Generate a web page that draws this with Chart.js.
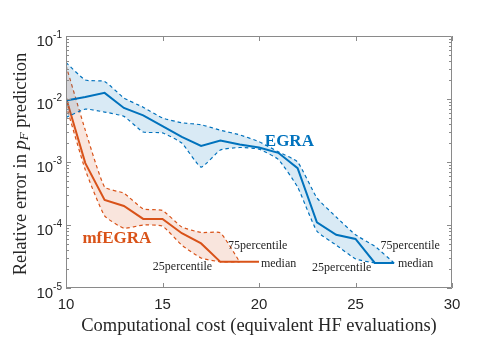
<!DOCTYPE html>
<html>
<head>
<meta charset="utf-8">
<script src="https://cdn.jsdelivr.net/npm/chart.js@4.4.1/dist/chart.umd.min.js"></script>
<style>
html, body { margin: 0; padding: 0; background: #fff; }
</style>
</head>
<body>
<canvas id="myChart" width="501" height="342"></canvas>
<script>
// EGRA: cost 10..27
var cost = [10, 11, 12, 13, 14, 15, 16, 17, 18, 19, 20, 21, 22, 23, 24, 25, 26, 27];
var egraMedian = [0.0095, 0.0108, 0.0125, 0.0072, 0.0055, 0.0037, 0.0025, 0.0018, 0.0022, 0.0019, 0.0017, 0.0014, 0.0008, 0.00011, 0.00007, 0.00006, 0.000025, 0.000025];
var egraP75 = [0.038, 0.020, 0.019, 0.0104, 0.0074, 0.005, 0.0042, 0.0039, 0.0032, 0.0027, 0.0021, 0.00145, 0.001, 0.00027, 0.000134, 0.00007, 0.000046, 0.000025];
var egraP25 = [0.0051, 0.0069, 0.0062, 0.0053, 0.0030, 0.0029, 0.0020, 0.00083, 0.00155, 0.0017, 0.0016, 0.0011, 0.0004, 0.00008, 0.000048, 0.000029, 0.000025, 0.000025];

// mfEGRA: cost 10..20 (percentiles stop at 19)
var mfCost = [10, 11, 12, 13, 14, 15, 16, 17, 18, 19, 20];
var mfMedian = [0.0105, 0.00096, 0.00025, 0.0002, 0.000125, 0.000125, 0.000074, 0.000051, 0.000026, 0.000026, 0.000026];
var mfP75 = [0.034, 0.0032, 0.0004, 0.00032, 0.00018, 0.00017, 0.000093, 0.000076, 0.000075, 0.000026];
var mfP25 = [0.008, 0.00075, 0.00014, 0.000089, 0.0001, 0.000096, 0.000048, 0.00003, 0.000026, 0.000026];

var xTicks = [10, 15, 20, 25, 30];
var yExp = [-5, -4, -3, -2, -1];

// text notes placed in data coordinates
var noteText = ['EGRA', 'mfEGRA', '75percentile', 'median', '25percentile', '75percentile', 'median', '25percentile'];
var noteX = [20.3, 10.85, 18.4, 20.1, 14.5, 26.3, 27.2, 22.75];
var noteY = [1.8e-3, 5.2e-5, 4.16e-5, 2.15e-5, 1.93e-5, 4.16e-5, 2.15e-5, 1.86e-5];

var blue = '#0072BD';
var orange = '#D95319';
var axisColor = '#8a8a8a';
var textColor = '#262626';
var noteColor = [blue, orange, textColor, textColor, textColor, textColor, textColor, textColor];
var noteBold = [true, true, false, false, false, false, false, false];

function pts(xs, ys) {
	return ys.map(function (y, i) { return { x: xs[i], y: y }; });
}

function band(data, color, fillColor) {
	return {
		data: data,
		borderColor: color,
		borderWidth: 1.2,
		borderDash: [3.5, 3],
		backgroundColor: fillColor,
		pointRadius: 0,
		tension: 0.15
	};
}

var ds = [];
var e75 = band(pts(cost, egraP75), blue, 'rgba(0,114,189,0.15)');
e75.fill = '+1';
ds.push(e75);
ds.push(band(pts(cost, egraP25), blue, 'transparent'));
ds.push({ data: pts(cost, egraMedian), borderColor: blue, borderWidth: 2, pointRadius: 0, fill: false });
var m75 = band(pts(mfCost, mfP75), orange, 'rgba(217,83,25,0.15)');
m75.fill = '+1';
ds.push(m75);
ds.push(band(pts(mfCost, mfP25), orange, 'transparent'));
ds.push({ data: pts(mfCost, mfMedian), borderColor: orange, borderWidth: 2, pointRadius: 0, fill: false });

var frame = {
	id: 'frame',
	afterDraw: function (chart) {
		var ctx = chart.ctx, a = chart.chartArea;
		var xs = chart.scales.x, ys = chart.scales.y;
		ctx.save();

		// box and inward ticks
		ctx.strokeStyle = axisColor;
		ctx.lineWidth = 1;
		ctx.beginPath();
		ctx.rect(a.left + 0.5, a.top + 0.5, a.right - a.left - 1, a.bottom - a.top - 1);
		xTicks.forEach(function (v) {
			var px = Math.round(xs.getPixelForValue(v)) + 0.5;
			ctx.moveTo(px, a.bottom); ctx.lineTo(px, a.bottom - 5);
			ctx.moveTo(px, a.top); ctx.lineTo(px, a.top + 5);
		});
		for (var e = -5; e < -1; e++) {
			for (var k = 1; k < 10; k++) {
				var py = Math.round(ys.getPixelForValue(k * Math.pow(10, e))) + 0.5;
				var len = k == 1 ? 5 : 3;
				ctx.moveTo(a.left, py); ctx.lineTo(a.left + len, py);
				ctx.moveTo(a.right, py); ctx.lineTo(a.right - len, py);
			}
		}
		ctx.stroke();

		// y tick labels 10^n
		ctx.fillStyle = textColor;
		ctx.textBaseline = 'alphabetic';
		yExp.forEach(function (n) {
			var py = ys.getPixelForValue(Math.pow(10, n));
			ctx.font = '10px "Liberation Sans"';
			var sup = '-' + Math.abs(n);
			var sw = ctx.measureText(sup).width;
			ctx.textAlign = 'left';
			ctx.fillText(sup, a.left - 4 - sw, py + 2);
			ctx.font = '15px "Liberation Sans"';
			ctx.textAlign = 'right';
			ctx.fillText('10', a.left - 4 - sw, py + 10);
		});

		// x title
		ctx.font = '18.5px "Liberation Serif"';
		ctx.textAlign = 'center';
		ctx.fillText('Computational cost (equivalent HF evaluations)', (a.left + a.right) / 2, 331);

		// y title with italic p_F
		ctx.translate(21, (a.top + a.bottom) / 2 + 2);
		ctx.rotate(-Math.PI / 2);
		ctx.textAlign = 'left';
		ctx.textBaseline = 'middle';
		var parts = [
			['Relative error in ', '18.5px "Liberation Serif"', 0],
			['p', 'italic 18.5px "Liberation Serif"', 0],
			['F', 'italic 13px "Liberation Serif"', 4],
			[' prediction', '18.5px "Liberation Serif"', 0]
		];
		var total = 0;
		parts.forEach(function (p) { ctx.font = p[1]; total += ctx.measureText(p[0]).width; });
		var cx = -total / 2;
		parts.forEach(function (p) {
			ctx.font = p[1];
			ctx.fillText(p[0], cx, p[2]);
			cx += ctx.measureText(p[0]).width;
		});
		ctx.restore();

		// notes
		ctx.save();
		ctx.textAlign = 'left';
		ctx.textBaseline = 'alphabetic';
		noteText.forEach(function (t, i) {
			ctx.font = noteBold[i] ? 'bold 17px "Liberation Serif"' : '12px "Liberation Serif"';
			ctx.fillStyle = noteColor[i];
			ctx.fillText(t, xs.getPixelForValue(noteX[i]), ys.getPixelForValue(noteY[i]));
		});
		ctx.restore();
	}
};

var chart = new Chart(document.getElementById('myChart').getContext('2d'), {
	type: 'line',
	data: { datasets: ds },
	plugins: [frame],
	options: {
		responsive: false,
		animation: false,
		layout: { padding: { left: 0, top: 36, right: 49, bottom: 0 } },
		plugins: { legend: { display: false }, tooltip: { enabled: false } },
		scales: {
			x: {
				type: 'linear',
				min: 10,
				max: 30,
				afterFit: function (s) { s.height = 54; },
				afterBuildTicks: function (s) { s.ticks = xTicks.map(function (v) { return { value: v }; }); },
				ticks: { color: textColor, font: { family: 'Liberation Sans', size: 15 }, padding: 8 },
				grid: { display: false, drawTicks: false },
				border: { display: false }
			},
			y: {
				type: 'logarithmic',
				min: 1e-5,
				max: 1e-1,
				afterFit: function (s) { s.width = 66; },
				ticks: { display: false },
				grid: { display: false, drawTicks: false },
				border: { display: false }
			}
		}
	}
});
</script>
</body>
</html>
